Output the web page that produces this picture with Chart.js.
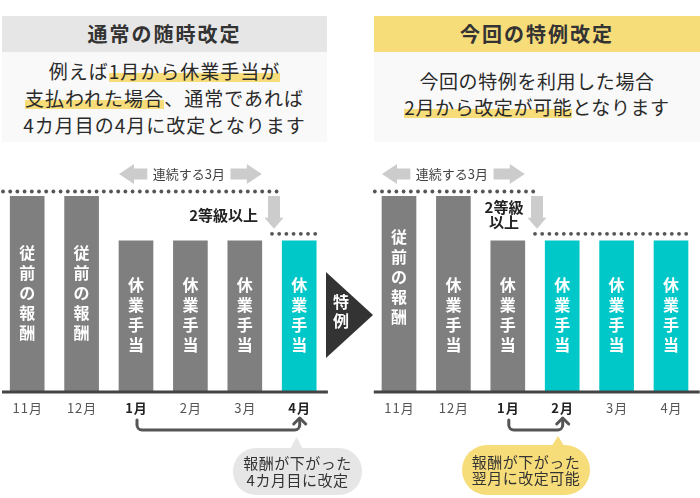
<!DOCTYPE html>
<html lang="ja"><head><meta charset="utf-8">
<script src="https://cdn.jsdelivr.net/npm/chart.js@4/dist/chart.umd.min.js"></script>
<style>
html,body{margin:0;padding:0;background:#fff;}
body{width:700px;height:498px;position:relative;overflow:hidden;font-family:"Noto Sans CJK JP","Noto Sans",sans-serif;color:#333;}
canvas{position:absolute;left:0;top:0;}
.hd{position:absolute;top:16px;height:36px;line-height:36px;text-align:center;font-weight:bold;font-size:20px;letter-spacing:2px;color:#333;}
.bd{position:absolute;top:52px;height:90px;background:#f9f9f9;text-align:center;font-size:19px;letter-spacing:1px;color:#2a2a2a;box-sizing:border-box;}
.mk{background:linear-gradient(transparent 58%,#f7dc7a 58%,#f7dc7a 92%,transparent 92%);}
.tri{position:absolute;left:326px;top:272px;width:47px;height:86px;background:#333;clip-path:polygon(0 0,100% 50%,0 100%);}
.tritx{position:absolute;left:330px;top:292px;width:22px;text-align:center;color:#fff;font-weight:bold;font-size:16px;line-height:19px;}
.bub{position:absolute;display:flex;align-items:center;justify-content:center;text-align:center;font-size:15px;line-height:16.5px;color:#333;letter-spacing:0.5px;}
.tail{position:absolute;clip-path:polygon(50% 0,0 100%,100% 100%);}
</style></head>
<body>
<div class="hd" style="left:2px;width:325px;background:#e6e6e6;">通常の随時改定</div>
<div class="bd" style="left:2px;width:325px;padding-top:5px;line-height:27px;">例えば<span class="mk">1月から休業手当が</span><br><span class="mk">支払われた場合</span>、通常であれば<br>4カ月目の4月に改定となります</div>
<div class="hd" style="left:374px;width:326px;background:#f7dc7a;">今回の特例改定</div>
<div class="bd" style="left:374px;width:326px;padding-top:16px;line-height:26px;letter-spacing:0.6px;">今回の特例を利用した場合<br><span class="mk">2月から改定が可能</span>となります</div>

<canvas id="cl" width="700" height="498"></canvas>
<canvas id="cr" width="700" height="498"></canvas>

<div class="tri"></div>
<div class="tritx">特<br>例</div>

<div class="tail" style="left:289px;top:437px;width:15px;height:14px;background:#e6e6e6;"></div>
<div class="bub" style="left:233px;top:448px;width:129px;height:47px;border-radius:23px;background:#e6e6e6;">報酬が下がった<br>4カ月目に改定</div>
<div class="tail" style="left:550px;top:436px;width:16px;height:13px;background:#f7dc7a;"></div>
<div class="bub" style="left:462px;top:445px;width:128px;height:50px;border-radius:25px;background:#f7dc7a;">報酬が下がった<br>翌月に改定可能</div>

<script>
// ---- data ----
const months = ['11月','12月','1月','2月','3月','4月'];
const leftValues  = [100,100,77,77,77,77];
const rightValues = [100,100,77,77,77,77];
const leftBarLabels  = ['従前の報酬','従前の報酬','休業手当','休業手当','休業手当','休業手当'];
const rightBarLabels = ['従前の報酬','休業手当','休業手当','休業手当','休業手当','休業手当'];
const leftRevised  = [false,false,false,false,false,true];
const rightRevised = [false,false,false,true,true,true];
const leftEmphasis  = ['1月','4月'];
const rightEmphasis = ['1月','2月'];
const spanText = '連続する3月';
const leftGradeText  = ['2等級以上'];
const rightGradeText = ['2等級','以上'];

const CYAN = '#00c8c8', GRAY = '#7f7f7f';
const FONT = '"Noto Sans CJK JP","Noto Sans",sans-serif';

const decor = {
  id: 'decor',
  afterDatasetsDraw(chart, args, o) {
    const ctx = chart.ctx, ca = chart.chartArea, xs = chart.scales.x, ys = chart.scales.y;
    const bars = chart.getDatasetMeta(0).data;
    const half = bars[0].width / 2;
    const yHigh = ys.getPixelForValue(100), yLow = ys.getPixelForValue(77);
    ctx.save();
    // baseline
    ctx.fillStyle = '#444';
    ctx.fillRect(ca.left + 2, ca.bottom - 0.5, ca.right + 1.5 - (ca.left + 2), 3);
    // vertical bar labels
    ctx.fillStyle = '#fff'; ctx.textAlign = 'center'; ctx.textBaseline = 'middle';
    ctx.font = 'bold 16px ' + FONT;
    bars.forEach((b, i) => {
      const chars = [...o.barLabels[i]];
      const cy = chars.length === 5 ? ca.bottom - o.longRise : ca.bottom - 76;
      chars.forEach((c, k) => ctx.fillText(c, b.x, cy + (k - (chars.length - 1) / 2) * 20));
    });
    // month ticks
    ctx.letterSpacing = '1px';
    months.forEach((m, i) => {
      const x = xs.getPixelForValue(i);
      const em = o.emphasis.includes(m);
      ctx.font = (em ? 'bold ' : '') + '13px ' + FONT;
      ctx.fillStyle = em ? '#222' : '#555';
      ctx.fillText(m, x + 0.5, 408);
    });
    ctx.letterSpacing = '0px';
    // span arrow (連続する3月)
    const x1 = bars[o.spanFrom].x - half, x2 = bars[o.spanTo].x + half, ay = 174;
    const mid = (x1 + x2) / 2;
    ctx.font = '13px ' + FONT;
    const tw = ctx.measureText(spanText).width;
    const tl = mid - tw / 2 - 7, tr = mid + tw / 2 + 4;
    ctx.fillStyle = '#cccccc';
    ctx.beginPath();
    ctx.moveTo(x1, ay); ctx.lineTo(x1 + 15, ay - 10); ctx.lineTo(x1 + 15, ay - 5.5); ctx.lineTo(tl, ay - 5.5);
    ctx.lineTo(tl, ay + 5.5); ctx.lineTo(x1 + 15, ay + 5.5); ctx.lineTo(x1 + 15, ay + 10); ctx.closePath(); ctx.fill();
    ctx.beginPath();
    ctx.moveTo(x2, ay); ctx.lineTo(x2 - 15, ay - 10); ctx.lineTo(x2 - 15, ay - 5.5); ctx.lineTo(tr, ay - 5.5);
    ctx.lineTo(tr, ay + 5.5); ctx.lineTo(x2 - 15, ay + 5.5); ctx.lineTo(x2 - 15, ay + 10); ctx.closePath(); ctx.fill();
    ctx.fillStyle = '#444';
    ctx.fillText(spanText, mid - 1.5, ay);
    // down arrow
    const dx = (bars[o.dropAfter].x + bars[o.dropAfter + 1].x) / 2 + 2;
    ctx.fillStyle = '#cccccc';
    ctx.beginPath();
    ctx.moveTo(dx - 6, yHigh); ctx.lineTo(dx + 6, yHigh); ctx.lineTo(dx + 6, yLow - 23);
    ctx.lineTo(dx + 9.5, yLow - 23); ctx.lineTo(dx, yLow - 12); ctx.lineTo(dx - 9.5, yLow - 23);
    ctx.lineTo(dx - 6, yLow - 23); ctx.closePath(); ctx.fill();
    // dotted lines
    ctx.fillStyle = '#555';
    const dots = (xa, xb, y) => { for (let x = xa; x <= xb; x += 7.2) { ctx.beginPath(); ctx.arc(x, y, 1.9, 0, Math.PI * 2); ctx.fill(); } };
    dots(ca.left + 3, dx + 3, yHigh - 4.5);
    dots(dx - 2, bars[bars.length - 1].x + half + 1, yLow - 7);
    // grade text
    ctx.fillStyle = '#222'; ctx.font = 'bold 15px ' + FONT;
    if (o.gradeLines.length === 1) {
      ctx.textAlign = 'right';
      ctx.fillText(o.gradeLines[0], dx - 16, 215);
    } else {
      ctx.textAlign = 'center';
      o.gradeLines.forEach((t, k) => ctx.fillText(t, dx - 33, 207 + k * 15.5));
    }
    // bracket arrow
    const xa = bars[o.bracket[0]].x + 1, xb = bars[o.bracket[1]].x + 0.5, by = 430;
    ctx.strokeStyle = '#555'; ctx.lineWidth = 3; ctx.lineCap = 'round'; ctx.lineJoin = 'round';
    ctx.beginPath();
    ctx.moveTo(xa, 420); ctx.lineTo(xa, by - 5); ctx.arcTo(xa, by, xa + 5, by, 5);
    ctx.lineTo(xb - 5, by); ctx.arcTo(xb, by, xb, by - 5, 5); ctx.lineTo(xb, 418.5);
    ctx.stroke();
    ctx.beginPath();
    ctx.moveTo(xb - 6, 424); ctx.lineTo(xb, 418); ctx.lineTo(xb + 6, 424); ctx.stroke();
    ctx.restore();
  }
};

function makeChart(id, values, revised, padding, opts) {
  return new Chart(document.getElementById(id), {
    type: 'bar',
    data: { labels: months, datasets: [{ data: values, backgroundColor: revised.map(r => r ? CYAN : GRAY), borderWidth: 0, barThickness: 34 }] },
    options: {
      responsive: false, animation: false, events: [],
      layout: { padding },
      plugins: { legend: { display: false }, tooltip: { enabled: false }, decor: opts },
      scales: { x: { display: false, offset: true }, y: { display: false, min: 0, max: 100 } }
    },
    plugins: [decor]
  });
}

makeChart('cl', leftValues, leftRevised, { left: 0, right: 373.6, top: 196, bottom: 107 },
  { barLabels: leftBarLabels, emphasis: leftEmphasis, longRise: 98, spanFrom: 2, spanTo: 4, dropAfter: 4, gradeLines: leftGradeText, bracket: [2, 5] });
makeChart('cr', rightValues, rightRevised, { left: 371.8, right: 1.8, top: 196, bottom: 107 },
  { barLabels: rightBarLabels, emphasis: rightEmphasis, longRise: 114, spanFrom: 0, spanTo: 2, dropAfter: 2, gradeLines: rightGradeText, bracket: [2, 3] });
</script>
</body></html>
